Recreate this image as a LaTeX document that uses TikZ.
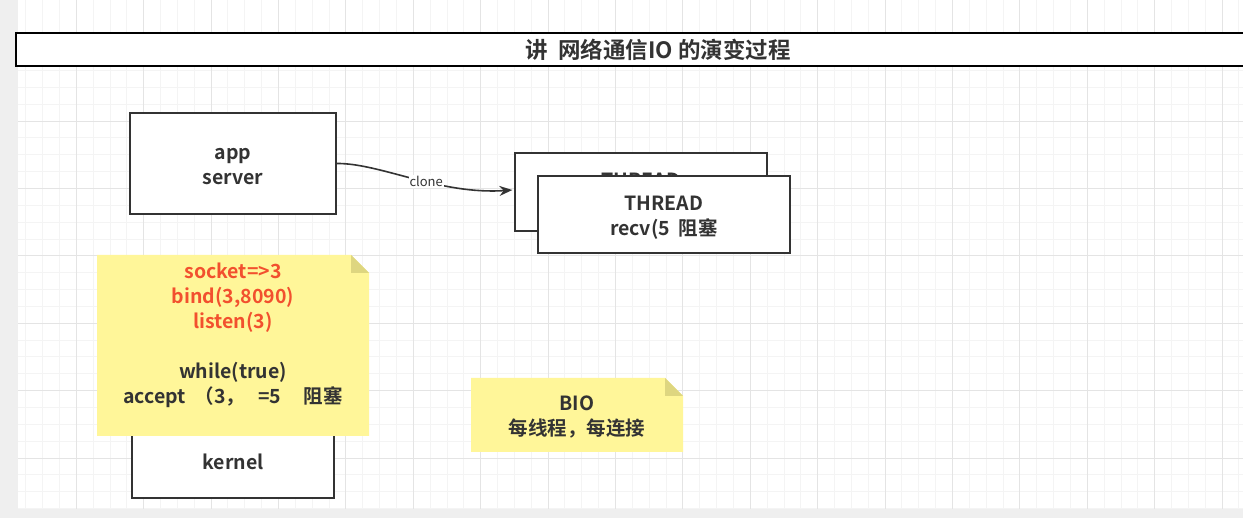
\documentclass[tikz,border=0pt]{standalone}
\usepackage{fontspec}
\setmainfont{Noto Sans CJK SC}[BoldFont={Noto Sans CJK SC Bold}]
\usetikzlibrary{arrows.meta}
\definecolor{canvasgray}{RGB}{239,239,239}
\definecolor{gridminor}{RGB}{244,244,244}
\definecolor{gridmajor}{RGB}{228,228,228}
\definecolor{notefill}{RGB}{255,246,153}
\definecolor{notefold}{RGB}{222,214,128}
\definecolor{notered}{RGB}{242,80,46}
\definecolor{inkgray}{RGB}{51,51,51}
\tikzset{
	box/.style={draw=inkgray, line width=1.3pt, fill=white},
	boxtext/.style={align=center, text=inkgray, font=\bfseries\fontsize{19.5}{25}\selectfont},
}

\begin{document}
\begin{tikzpicture}[x=1pt, y=-1pt]
		%%%%% START %%%%%
		\useasboundingbox (0, 0) rectangle (1243, 518);
		\fill[canvasgray] (0, 0) rectangle (1243, 518);
		\fill[white] (18, 0) rectangle (1243, 509);
		
		% grid
		\begin{scope}
			\clip (18, 0) rectangle (1243, 509);
			\foreach \i in {0,...,74} {
				\draw[gridminor, line width=0.8pt] ({8.8+\i*16.85}, 0) -- ++(0, 509);
			}
			\foreach \i in {-1,...,31} {
				\draw[gridminor, line width=0.8pt] (18, {53.6+\i*16.85}) -- ++(1225, 0);
			}
			\foreach \i in {0,...,18} {
				\draw[gridmajor, line width=0.9pt] ({8.8+\i*67.4}, 0) -- ++(0, 509);
			}
			\foreach \i in {-1,...,7} {
				\draw[gridmajor, line width=0.9pt] (18, {53.6+\i*67.4}) -- ++(1225, 0);
			}
		\end{scope}
		
		% title
		\node[draw=black, line width=2.2pt, fill=white, minimum width=1240pt, minimum height=33pt, anchor=west] (title) at (15, 49.5) {};
		\node[text=inkgray, font=\bfseries\fontsize{22.5}{26}\selectfont] (titletext) at (658, 50) {讲\ \ 网络通信IO 的演变过程};
		
		% app and threads
		\node[box, minimum width=206pt, minimum height=101pt] (app) at (233, 163.5) {};
		\node[boxtext] (apptext) at ([yshift=-3pt]app.center) {app\\server};
		\node[box, minimum width=252pt, minimum height=78pt] (threadback) at (641, 192) {};
		\node[boxtext] (threadbacktext) at ([yshift=-3pt]threadback.center) {THREAD\\recv(5\ \ 阻塞};
		\node[box, minimum width=252pt, minimum height=77pt] (thread) at (664, 214.5) {};
		\node[boxtext] (threadtext) at ([yshift=-3pt]thread.center) {THREAD\\recv(5\ \ 阻塞};
		
		\draw[inkgray, line width=1.6pt, -{Stealth[length=13pt, width=10pt]}] (app.east) .. controls (380, 163) and (440, 195) .. ([xshift=-2pt, yshift=2pt]threadback.west)
			node[pos=0.57, fill=white, inner sep=1pt, text=inkgray, font=\fontsize{13}{15}\selectfont] (clonelabel) {clone};
		
		% kernel
		\node[box, minimum width=202pt, minimum height=74pt] (kernel) at (233, 461) {};
		\node[boxtext] (kerneltext) at ([yshift=-1pt]kernel.center) {kernel};
		
		% socket note
		\fill[notefill] (97, 255) -- (351, 255) -- (369, 273) -- (369, 436) -- (97, 436) -- cycle;
		\fill[notefold] (351, 255) -- (369, 273) -- (351, 273) -- cycle;
		\node[boxtext] (socknote) at (233, 335) {\textcolor{notered}{socket=>3}\\\textcolor{notered}{bind(3,8090)}\\\textcolor{notered}{listen(3)}\\[25pt]while(true)\\accept\ \ （3，\ \ \ =5\ \ \ \ \ 阻塞};
		
		% bio note
		\fill[notefill] (471, 378) -- (665, 378) -- (683, 396) -- (683, 452) -- (471, 452) -- cycle;
		\fill[notefold] (665, 378) -- (683, 396) -- (665, 396) -- cycle;
		\node[boxtext] (bionote) at (577, 417) {BIO\\每线程，每连接};
		
		%%%%% END %%%%%
	\end{tikzpicture}
\end{document}
